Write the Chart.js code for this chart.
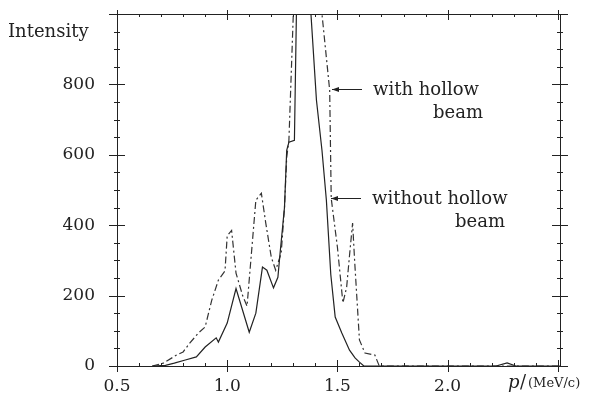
<!DOCTYPE html>
<html>
<head>
<meta charset="utf-8">
<script src="https://cdn.jsdelivr.net/npm/chart.js@4.4.1/dist/chart.umd.min.js"></script>
<style>
  html, body { margin: 0; padding: 0; background: #fff; }
  #wrap { width: 596px; height: 396px; }
</style>
</head>
<body>
<div id="wrap"><canvas id="chart" width="596" height="396"></canvas></div>
<script>
// momentum p (MeV/c) and intensity
const pWithout = [0.66, 0.72, 0.76, 0.81, 0.86, 0.90, 0.95, 0.96, 1.00, 1.04, 1.10, 1.13, 1.16, 1.18, 1.21, 1.23, 1.24, 1.26, 1.27, 1.28, 1.305, 1.315, 1.35, 1.38, 1.405, 1.43, 1.45, 1.47, 1.49, 1.52, 1.555, 1.58, 1.60, 1.62, 2.22, 2.27, 2.31, 2.51];
const intensityWithout = [0, 2, 8, 17, 26, 54, 80, 68, 122, 220, 96, 150, 281, 272, 222, 252, 321, 451, 613, 636, 641, 1040, 1080, 1000, 755, 613, 471, 260, 139, 94, 45, 23, 11, 0, 0, 9, 0, 0];

const pWith = [0.66, 0.71, 0.77, 0.80, 0.83, 0.87, 0.90, 0.93, 0.96, 0.99, 1.00, 1.02, 1.04, 1.07, 1.09, 1.13, 1.155, 1.175, 1.20, 1.22, 1.245, 1.26, 1.27, 1.28, 1.30, 1.34, 1.43, 1.465, 1.472, 1.50, 1.525, 1.542, 1.556, 1.569, 1.578, 1.60, 1.625, 1.67, 1.69, 2.51];
const intensityWith = [0, 8, 31, 40, 65, 94, 111, 187, 244, 270, 370, 385, 264, 200, 170, 471, 491, 406, 309, 272, 321, 451, 593, 641, 1000, 1120, 1000, 783, 476, 338, 179, 224, 321, 406, 301, 74, 37, 31, 0, 0];

const xLabels = [0.5, 1.0, 1.5, 2.0];
const yLabels = [0, 200, 400, 600, 800];

const ink = '#222';
const serif = '"DejaVu Serif", serif';

// frame with ticks on all four sides, plus the text labels and arrows
const frameAndNotes = {
  id: 'frameAndNotes',
  afterDraw(chart) {
    const { ctx, chartArea: a, scales: { x, y } } = chart;
    ctx.save();
    ctx.strokeStyle = ink;
    ctx.lineWidth = 1;
    ctx.strokeRect(a.left + 0.5, a.top + 0.5, a.right - a.left, a.bottom - a.top);

    ctx.beginPath();
    for (let i = 0; i <= 20; i++) {
      const v = i * 50;
      const py = Math.round(y.getPixelForValue(v)) + 0.5;
      const major = v % 200 === 0;
      const len = major ? 8 : 3;
      ctx.moveTo(a.left - len, py); ctx.lineTo(a.left + len, py);
      ctx.moveTo(a.right - len, py); ctx.lineTo(a.right + len, py);
    }
    for (let i = 5; i <= 25; i++) {
      const px = Math.round(x.getPixelForValue(i / 10)) + 0.5;
      const major = i % 5 === 0;
      const len = major ? 6 : 3;
      ctx.moveTo(px, a.bottom - len); ctx.lineTo(px, a.bottom + (major ? 6 : 0));
      ctx.moveTo(px, a.top - (major ? 4 : 0)); ctx.lineTo(px, a.top + len);
    }
    ctx.stroke();

    ctx.fillStyle = ink;
    ctx.font = '18px ' + serif;
    ctx.textBaseline = 'alphabetic';
    ctx.textAlign = 'left';
    ctx.fillText('Intensity', 8, 37);

    ctx.font = '18px ' + serif;
    ctx.fillText('with hollow', 373, 95);
    ctx.fillText('beam', 433, 118);
    ctx.fillText('without hollow', 372, 204);
    ctx.fillText('beam', 455, 227);

    ctx.font = 'italic 18px ' + serif;
    ctx.fillText('p', 508, 388);
    ctx.font = '18px ' + serif;
    ctx.fillText('/', 520, 388);
    ctx.font = '13px ' + serif;
    ctx.fillText('(MeV/c)', 528, 387);

    // arrows
    const arrow = (x0, x1, yy) => {
      ctx.beginPath();
      ctx.moveTo(x1, yy + 0.5); ctx.lineTo(x0, yy + 0.5);
      ctx.stroke();
      ctx.beginPath();
      ctx.moveTo(x0, yy + 0.5);
      ctx.lineTo(x0 + 7, yy - 2);
      ctx.lineTo(x0 + 7, yy + 3);
      ctx.closePath();
      ctx.fill();
    };
    arrow(332, 362, 89);
    arrow(331, 361, 198);
    ctx.restore();
  }
};

new Chart(document.getElementById('chart'), {
  type: 'line',
  data: {
    datasets: [
      {
        label: 'without hollow beam',
        data: pWithout.map((p, i) => ({ x: p, y: intensityWithout[i] })),
        borderColor: ink,
        borderWidth: 1.2,
        pointRadius: 0,
        tension: 0
      },
      {
        label: 'with hollow beam',
        data: pWith.map((p, i) => ({ x: p, y: intensityWith[i] })),
        borderColor: '#333',
        borderWidth: 1.2,
        borderDash: [7, 3, 2, 3],
        pointRadius: 0,
        tension: 0
      }
    ]
  },
  options: {
    responsive: false,
    animation: false,
    devicePixelRatio: 1,
    layout: { padding: { top: 14, right: 36, left: 0, bottom: 0 } },
    plugins: { legend: { display: false }, tooltip: { enabled: false } },
    scales: {
      x: {
        type: 'linear',
        min: 0.5,
        max: 2.51,
        grid: { display: false },
        border: { display: false },
        afterFit: (s) => { s.height = 30; s.paddingLeft = 0; s.paddingRight = 0; },
        ticks: {
          stepSize: 0.1,
          autoSkip: false,
          maxRotation: 0,
          padding: 2,
          color: ink,
          font: { family: serif, size: 17 },
          callback: (v) => {
            const r = Math.round(v * 10) / 10;
            return xLabels.includes(r) ? r.toFixed(1) : '';
          }
        }
      },
      y: {
        min: 0,
        max: 1000,
        grid: { display: false },
        border: { display: false },
        afterFit: (s) => { s.width = 117; s.paddingTop = 0; s.paddingBottom = 0; },
        ticks: {
          stepSize: 50,
          autoSkip: false,
          padding: 14,
          color: ink,
          font: { family: serif, size: 17 },
          callback: (v) => yLabels.includes(v) ? String(v) : ''
        }
      }
    }
  },
  plugins: [frameAndNotes]
});
</script>
</body>
</html>
